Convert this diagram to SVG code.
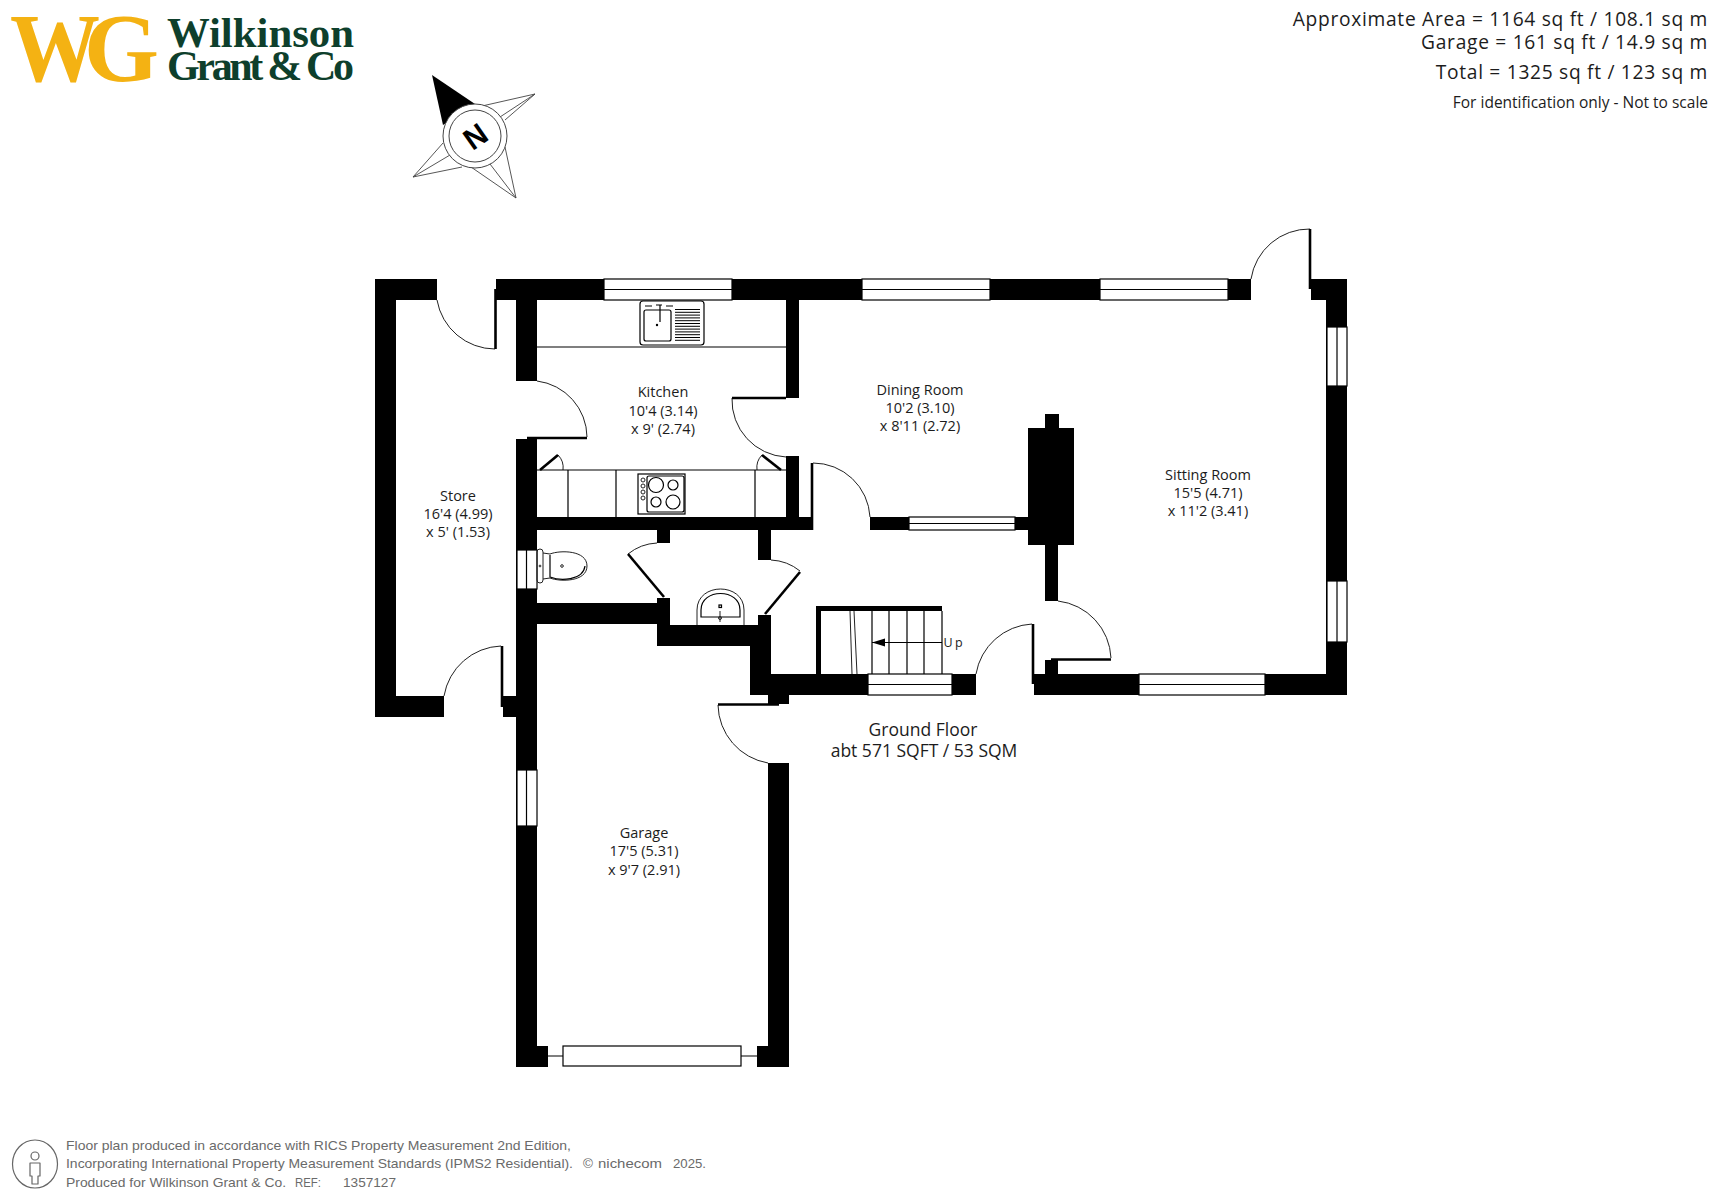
<svg xmlns="http://www.w3.org/2000/svg" width="1712" height="1192" viewBox="0 0 1712 1192">
<style>
text{font-family:"Open Sans","Noto Sans","Liberation Sans",sans-serif;fill:#1c1c1c}
.room{font-size:14.5px;text-anchor:middle}
.w{fill:#000}
.win{fill:#fff;stroke:#000;stroke-width:1.2}
.l{fill:none;stroke:#000;stroke-width:1.2}
.a{fill:none;stroke:#222;stroke-width:1}
.leaf{fill:none;stroke:#000;stroke-width:2.6}
.area{text-anchor:end;font-size:19.2px}
.foot{font-family:"Liberation Sans",sans-serif;font-size:13.5px;fill:#6a6a6a}
</style>
<rect width="1712" height="1192" fill="#fff"/>
<g id="logo">
<text x="10" y="81" font-size="98" textLength="90" lengthAdjust="spacingAndGlyphs" style="font-family:'Liberation Serif',serif;font-weight:bold;fill:#f4b213">W</text>
<text x="84" y="81" font-size="98" textLength="75" lengthAdjust="spacingAndGlyphs" style="font-family:'Liberation Serif',serif;font-weight:bold;fill:#f4b213">G</text>
<text x="167" y="47" font-size="42" textLength="187" lengthAdjust="spacingAndGlyphs" style="font-family:'Liberation Serif',serif;font-weight:bold;fill:#0e3f2c">Wilkinson</text>
<text x="167" y="80" font-size="42" textLength="187" lengthAdjust="spacing" style="font-family:'Liberation Serif',serif;font-weight:bold;fill:#0e3f2c">Grant &amp; Co</text>
</g>
<g id="compass">
<path d="M535,94 L482,106 M535,94 L500,117 M516,198 L505,147 M516,198 L471,167 M413,177 L462,167 M413,177 L443,143 M535,94 L505,120 M516,198 L490,164 M413,177 L450,155" fill="none" stroke="#444" stroke-width="0.9"/>
<path d="M432,75 L443,125 L475,104 Z" fill="#000"/>
<circle cx="475" cy="136" r="32" fill="#fff" stroke="#444" stroke-width="1"/>
<circle cx="475" cy="136" r="26" fill="#fff" stroke="#444" stroke-width="1"/>
<text x="475" y="147" font-size="30" font-weight="bold" text-anchor="middle" transform="rotate(-35 475 136)" style="fill:#000;font-family:'Liberation Sans',sans-serif">N</text>
</g>
<g id="walls">
<path class="w" d="M375,279H437V300H396V696H444V717H375Z"/>
<rect class="w" x="496" y="279" width="755" height="21"/>
<rect class="w" x="1311" y="279" width="36" height="21"/>
<rect class="w" x="516" y="300" width="21" height="81"/>
<rect class="w" x="786" y="300" width="13" height="98"/>
<rect class="w" x="786" y="456" width="13" height="62"/>
<rect class="w" x="516" y="439" width="21" height="628"/>
<rect class="w" x="516" y="517" width="296" height="13"/>
<rect class="w" x="516" y="1046" width="32" height="21"/>
<rect class="w" x="757" y="1046" width="32" height="21"/>
<rect class="w" x="768" y="763" width="21" height="283"/>
<rect class="w" x="503" y="696" width="14" height="21"/>
<rect class="w" x="657" y="530" width="13" height="13"/>
<rect class="w" x="758" y="530" width="13" height="30"/>
<rect class="w" x="537" y="603" width="120" height="21"/>
<path class="w" d="M657,598H670V625H758V615H771V674H952V695H789V704H768V695H750V646H657Z"/>
<rect class="w" x="952" y="674" width="24" height="21"/>
<rect class="w" x="870" y="517" width="158" height="13"/>
<path class="w" d="M1045,414H1059V428H1074V545H1058V601H1045V545H1028V428H1045Z"/>
<rect class="w" x="1045" y="660" width="13" height="14"/>
<rect class="w" x="1034" y="674" width="313" height="21"/>
<rect class="w" x="1326" y="279" width="21" height="416"/>
</g>
<g id="windows">
<g><rect class="win" x="604" y="279" width="128" height="21"/><path class="l" d="M604,289.5H732"/></g>
<g><rect class="win" x="862" y="279" width="128" height="21"/><path class="l" d="M862,289.5H990"/></g>
<g><rect class="win" x="1100" y="279" width="128" height="21"/><path class="l" d="M1100,289.5H1228"/></g>
<g><rect class="win" x="1327" y="327" width="20" height="59"/><path class="l" d="M1337,327V386"/></g>
<g><rect class="win" x="1327" y="581" width="20" height="61"/><path class="l" d="M1337,581V642"/></g>
<g><rect class="win" x="1139" y="674" width="126" height="21"/><path class="l" d="M1139,684.500H1265"/></g>
<g><rect class="win" x="868" y="674" width="84" height="21"/><path class="l" d="M868,684.500H952"/></g>
<g><rect class="win" x="909" y="517" width="106" height="13"/><path class="l" d="M909,523.500H1015"/></g>
<g><rect class="win" x="517" y="550" width="20" height="39"/><path class="l" d="M526.500,550V589"/></g>
<g><rect class="win" x="517" y="770" width="20" height="56"/><path class="l" d="M526.500,770V826"/></g>
<g><rect class="win" x="563" y="1046" width="178" height="20"/><path class="l" d="M548,1056H563M741,1056H757"/></g>
</g>
<g id="doors">
<path class="a" d="M437,300A59,59 0 0 0 495,349"/><path class="leaf" d="M495.500,289V349"/>
<path class="a" d="M537,381A57,57 0 0 1 587,437"/><path class="leaf" d="M527,438H587"/>
<path class="a" d="M732,398A57,57 0 0 0 786,457"/><path class="leaf" d="M732,398H786"/>
<path class="a" d="M813,463A57,57 0 0 1 870,517"/><path class="leaf" d="M812,463V530"/>
<path class="a" d="M1310,229A59,59 0 0 0 1251,279"/><path class="leaf" d="M1310,229V289"/>
<path class="a" d="M1111,658A60,60 0 0 0 1058,601"/><path class="leaf" d="M1051,659.500H1111"/>
<path class="a" d="M1032,624A60,60 0 0 0 976,674"/><path class="leaf" d="M1033,624V684"/>
<path class="a" d="M501,646A60,60 0 0 0 444,696"/><path class="leaf" d="M502,646V707"/>
<path class="a" d="M718,705A60,60 0 0 0 768,763"/><path class="leaf" d="M718,704.500H779"/>
<path class="a" d="M657,543A50,50 0 0 0 628,554"/><path class="leaf" d="M628,554L664,597"/>
<path class="a" d="M771,560A50,50 0 0 1 800,571"/><path class="leaf" d="M800,572L765,614"/>
<path class="a" d="M558,455A18,18 0 0 1 563,470"/><path class="leaf" d="M540,470L558,455"/>
<path class="a" d="M762,455A18,18 0 0 0 757,470"/><path class="leaf" d="M781,470L762,455"/>
</g>
<g id="kitchen-units">
<path class="l" d="M537,347H786M537,470H786M568,470V517M616,470V517M755,470V517"/>
<g id="sink">
<rect class="l" x="640" y="301" width="64" height="44" rx="3"/>
<rect class="l" x="644" y="310" width="27" height="31" rx="2"/>
<path class="l" d="M656,305H662M660,305V322" stroke-width="2"/>
<circle cx="657" cy="325" r="1.200" fill="#000"/>
<path class="l" d="M645,306H652M666,306H673"/>
<path d="M675,309.500H700M675,312.300H700M675,315.100H700M675,317.900H700M675,320.700H700M675,323.500H700M675,326.300H700M675,329.100H700M675,331.900H700M675,334.700H700M675,337.500H700M675,340.300H700" fill="none" stroke="#000" stroke-width="1"/>
</g>
<g id="hob">
<rect class="l" x="638" y="474" width="47" height="40"/>
<rect class="l" x="647" y="476" width="37" height="36" rx="2"/>
<circle class="l" cx="656" cy="485" r="7.500"/><circle class="l" cx="673" cy="485" r="5"/>
<circle class="l" cx="656" cy="502" r="5"/><circle class="l" cx="673" cy="502" r="7"/>
<circle class="a" cx="643" cy="480" r="2"/><circle class="a" cx="643" cy="486" r="2"/><circle class="a" cx="643" cy="492" r="2"/><circle class="a" cx="643" cy="498" r="2"/>
</g>
</g>
<g id="toilet">
<rect class="a" x="537" y="549" width="6" height="34" rx="3"/>
<path class="a" d="M543,553L550,554C560,550 587,550 587,566C587,582 560,582 550,578L543,579"/>
<path class="l" d="M550,555V577C560,581 583,581 585,566"/>
<circle class="a" cx="540" cy="566" r="0.900"/><circle class="a" cx="562" cy="566" r="1.300"/>
</g>
<g id="basin">
<path class="a" d="M697,625V610C697,582 744,582 744,610V625"/>
<path class="l" d="M701,617V610C701,588 740,588 740,610V617Z"/>
<rect class="l" x="719" y="605" width="2.500" height="2.500"/>
<path class="a" d="M720,611V622"/><circle class="a" cx="720" cy="618" r="1.500"/>
</g>
<g id="stairs">
<rect class="w" x="816" y="606" width="126" height="5"/>
<rect class="w" x="816" y="606" width="5" height="68"/>
<path class="l" d="M872,611V674M889,611V674M907,611V674M924,611V674M942,611V674M872,642.500H942"/>
<path class="a" d="M850,611L852,674M854,611L857,674"/>
<path d="M872,642.500L885,638.500V646.500Z" fill="#000"/>
<text x="943.500" y="646.500" font-size="12.500" letter-spacing="2.500">Up</text>
</g>
<g id="labels">
<g id="store"><text class="room" x="458" y="501">Store</text><text class="room" x="458" y="519">16'4 (4.99)</text><text class="room" x="458" y="537">x 5' (1.53)</text></g>
<g id="kitchen"><text class="room" x="663" y="397">Kitchen</text><text class="room" x="663" y="416">10'4 (3.14)</text><text class="room" x="663" y="434">x 9' (2.74)</text></g>
<g id="dining"><text class="room" x="920" y="395">Dining Room</text><text class="room" x="920" y="413">10'2 (3.10)</text><text class="room" x="920" y="431">x 8'11 (2.72)</text></g>
<g id="sitting"><text class="room" x="1208" y="480">Sitting Room</text><text class="room" x="1208" y="498">15'5 (4.71)</text><text class="room" x="1208" y="516">x 11'2 (3.41)</text></g>
<g id="garage"><text class="room" x="644" y="838">Garage</text><text class="room" x="644" y="856">17'5 (5.31)</text><text class="room" x="644" y="875">x 9'7 (2.91)</text></g>
<g id="floor"><text x="923" y="736" font-size="17.500" text-anchor="middle">Ground Floor</text><text x="924" y="757" font-size="17.500" text-anchor="middle">abt 571 SQFT / 53 SQM</text></g>
</g>
<g id="areas">
<text class="area" x="1708" y="26" letter-spacing="0.700">Approximate Area = 1164 sq ft / 108.1 sq m</text>
<text class="area" x="1708" y="49" letter-spacing="0.700">Garage = 161 sq ft / 14.9 sq m</text>
<text class="area" x="1708" y="79" letter-spacing="0.700">Total = 1325 sq ft / 123 sq m</text>
<text x="1708" y="108" font-size="15.500" text-anchor="end">For identification only - Not to scale</text>
</g>
<g id="footer">
<ellipse cx="35" cy="1164" rx="22.500" ry="24" fill="none" stroke="#666" stroke-width="1.200"/>
<circle cx="35" cy="1156" r="4" fill="none" stroke="#666" stroke-width="1.200"/>
<path d="M30,1163H40V1176H38V1184H32V1176H30Z" fill="none" stroke="#666" stroke-width="1.200" stroke-linejoin="round"/>
<text class="foot" x="66" y="1150" textLength="505" lengthAdjust="spacingAndGlyphs">Floor plan produced in accordance with RICS Property Measurement 2nd Edition,</text>
<text class="foot" x="66" y="1168" textLength="507" lengthAdjust="spacingAndGlyphs">Incorporating International Property Measurement Standards (IPMS2 Residential).</text>
<text class="foot" x="583" y="1168">©</text>
<text class="foot" x="598" y="1168" font-size="16" textLength="64" lengthAdjust="spacingAndGlyphs">nichecom</text>
<text class="foot" x="673" y="1168" textLength="33" lengthAdjust="spacingAndGlyphs">2025.</text>
<text class="foot" x="66" y="1187" textLength="220" lengthAdjust="spacingAndGlyphs">Produced for Wilkinson Grant &amp; Co.</text>
<text class="foot" x="295" y="1187" textLength="26" lengthAdjust="spacingAndGlyphs">REF:</text>
<text class="foot" x="343" y="1187" textLength="53" lengthAdjust="spacingAndGlyphs">1357127</text>
</g>
</svg>
